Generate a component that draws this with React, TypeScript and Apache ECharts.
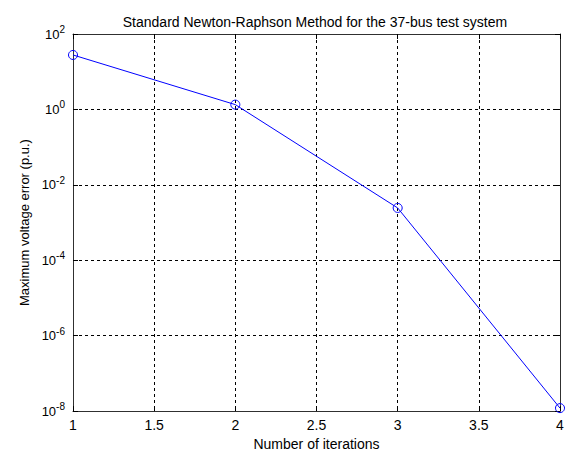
import React, { useEffect, useRef } from "react";
import * as echarts from "echarts";

const titleText = "Standard Newton-Raphson Method for the 37-bus test system";
const xAxisName = "Number of iterations";
const yAxisName = "Maximum voltage error (p.u.)";
const iterations = [1, 2, 3, 4];
const maxVoltageError = [27.8, 1.34, 2.44e-3, 1.2e-8];

const FONT = "'Liberation Sans', Arial, sans-serif";

export default function App() {
  const ref = useRef<HTMLDivElement>(null);
  useEffect(() => {
    document.body.style.margin = "0";
    if (!ref.current) return;
    const chart = echarts.init(ref.current, null, { renderer: "svg" });
    const data = iterations.map((x, i) => [x, maxVoltageError[i]]);
    const yLabel = (v: number) => {
      const e = Math.round(Math.log10(v));
      return `{b|10}{s|${e}}`;
    };
    const gridLine = { show: true, lineStyle: { color: "#000", type: [3, 3] as any, width: 1 } };
    const axisLine = { show: true, lineStyle: { color: "#303030", width: 1 } };
    const tick = { show: true, inside: true, length: 5, lineStyle: { color: "#000" } };
    chart.setOption({
      animation: false,
      backgroundColor: "#fff",
      textStyle: { fontFamily: FONT },
      title: {
        text: titleText,
        left: 310,
        textAlign: "center",
        top: 10,
        textStyle: { fontFamily: FONT, fontSize: 14, fontWeight: "normal", color: "#000" },
      },
      grid: { left: 73, right: 13, top: 34, bottom: 39, containLabel: false },
      xAxis: [
        {
          type: "value",
          min: 1,
          max: 4,
          interval: 0.5,
          name: xAxisName,
          nameLocation: "middle",
          nameGap: 24,
          nameTextStyle: { fontFamily: FONT, fontSize: 14, color: "#000" },
          axisLine,
          axisTick: tick,
          axisLabel: { fontFamily: FONT, fontSize: 14, color: "#000", margin: 7 },
          splitLine: gridLine,
        },
        {
          type: "value",
          position: "top",
          min: 1,
          max: 4,
          interval: 0.5,
          axisLine,
          axisTick: tick,
          axisLabel: { show: false },
          splitLine: { show: false },
        },
      ],
      yAxis: [
        {
          type: "log",
          logBase: 10,
          min: 1e-8,
          max: 1e2,
          interval: 2,
          name: yAxisName,
          nameLocation: "middle",
          nameGap: 40,
          nameRotate: 90,
          nameTextStyle: { fontFamily: FONT, fontSize: 13, color: "#000" },
          axisLine,
          axisTick: tick,
          axisLabel: {
            formatter: yLabel,
            margin: 8,
            color: "#000",
            rich: {
              b: { fontFamily: FONT, fontSize: 13, color: "#000" },
              s: { fontFamily: FONT, fontSize: 10, color: "#000", padding: [0, 0, 9, 0] },
            },
          },
          splitLine: gridLine,
        },
        {
          type: "log",
          logBase: 10,
          min: 1e-8,
          max: 1e2,
          interval: 2,
          position: "right",
          axisLine,
          axisTick: tick,
          axisLabel: { show: false },
          splitLine: { show: false },
        },
      ],
      series: [
        {
          type: "line",
          data,
          xAxisIndex: 0,
          yAxisIndex: 0,
          symbol: "circle",
          symbolSize: 9,
          lineStyle: { color: "#0000ff", width: 1 },
          itemStyle: { color: "rgba(0,0,0,0)", borderColor: "#0000ff", borderWidth: 1 },
        },
      ],
    });
    return () => chart.dispose();
  }, []);
  return <div ref={ref} style={{ width: 573, height: 456 }} />;
}
